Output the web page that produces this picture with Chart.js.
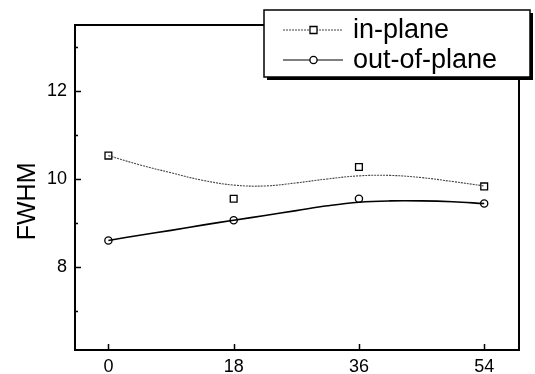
<!DOCTYPE html>
<html>
<head>
<meta charset="utf-8">
<script src="https://cdn.jsdelivr.net/npm/chart.js@4.4.1/dist/chart.umd.min.js"></script>
<style>
  html, body { margin: 0; padding: 0; background: #fff; }
  canvas { display: block; }
</style>
</head>
<body>
<canvas id="chart" width="535" height="374"></canvas>
<script>
// measured points
const xCats = [0, 18, 36, 54]
const inPlane = [10.53, 9.55, 10.27, 9.83]
const outOfPlane = [8.6, 9.06, 9.55, 9.44]

// fitted curves
const fitX = [0, 4.5, 9, 13.5, 18, 22.5, 27, 31.5, 36, 40.5, 45, 49.5, 54]
const inPlaneFit = [10.53, 10.32, 10.14, 9.97, 9.86, 9.84, 9.91, 10.0, 10.07, 10.08, 10.03, 9.94, 9.84]
const outOfPlaneFit = [8.6, 8.72, 8.83, 8.95, 9.06, 9.17, 9.28, 9.39, 9.47, 9.5, 9.5, 9.48, 9.44]

const xTicks = [0, 18, 36, 54]
const yTicks = [8, 10, 12]
const yMinorTicks = [7, 9, 11, 13]
const seriesLabels = ['in-plane', 'out-of-plane']

const toXY = (xs, ys) => xs.map((x, i) => ({x: x, y: ys[i]}))

const FONT = '"Liberation Sans", Arial, sans-serif'

// frame, inward tick marks and the boxed legend
const framePlugin = {
  id: 'frame',
  afterDraw(chart) {
    const {ctx, chartArea: a, scales: {x, y}} = chart
    ctx.save()
    ctx.strokeStyle = '#000'
    ctx.lineWidth = 2
    ctx.strokeRect(a.left, a.top, a.right - a.left, a.bottom - a.top)

    ctx.lineWidth = 1.5
    ctx.beginPath()
    xTicks.forEach(v => {
      const px = Math.round(x.getPixelForValue(v)) + 0.5
      ctx.moveTo(px, a.bottom)
      ctx.lineTo(px, a.bottom - 6)
    })
    yTicks.forEach(v => {
      const py = Math.round(y.getPixelForValue(v)) + 0.5
      ctx.moveTo(a.left, py)
      ctx.lineTo(a.left + 6, py)
    })
    yMinorTicks.forEach(v => {
      const py = Math.round(y.getPixelForValue(v)) + 0.5
      ctx.moveTo(a.left, py)
      ctx.lineTo(a.left + 3, py)
    })
    ctx.stroke()

    // legend box with drop shadow
    const bx = 264, by = 10, bw = 266, bh = 67
    ctx.fillStyle = '#000'
    ctx.fillRect(bx + 3, by + 3, bw, bh)
    ctx.fillStyle = '#fff'
    ctx.fillRect(bx, by, bw, bh)
    ctx.lineWidth = 1.5
    ctx.strokeRect(bx, by, bw, bh)

    const rows = [by + 20, by + 50]
    ctx.font = '27px ' + FONT
    ctx.textBaseline = 'middle'
    rows.forEach((ry, i) => {
      ctx.strokeStyle = i === 0 ? '#444' : '#000'
      ctx.lineWidth = 1.2
      ctx.setLineDash(i === 0 ? [2, 1] : [])
      ctx.beginPath()
      ctx.moveTo(283, ry)
      ctx.lineTo(343, ry)
      ctx.stroke()
      ctx.setLineDash([])
      ctx.fillStyle = '#fff'
      ctx.strokeStyle = '#000'
      ctx.lineWidth = 1.3
      ctx.beginPath()
      if (i === 0) ctx.rect(310, ry - 3.5, 7, 7)
      else ctx.arc(313.5, ry, 3.6, 0, Math.PI * 2)
      ctx.fill()
      ctx.stroke()
      ctx.fillStyle = '#000'
      ctx.fillText(seriesLabels[i], 353, ry + 1)
    })
    ctx.restore()
  }
}

const ctx = document.getElementById('chart')

new Chart(ctx, {
  type: 'scatter',
  data: {
    datasets: [
      {
        label: seriesLabels[0] + ' fit',
        data: toXY(fitX, inPlaneFit),
        showLine: true,
        pointRadius: 0,
        borderColor: '#444',
        borderWidth: 1.1,
        borderDash: [2, 1],
        tension: 0.4
      },
      {
        label: seriesLabels[1] + ' fit',
        data: toXY(fitX, outOfPlaneFit),
        showLine: true,
        pointRadius: 0,
        borderColor: '#000',
        borderWidth: 1.6,
        tension: 0.4
      },
      {
        label: seriesLabels[0],
        data: toXY(xCats, inPlane),
        pointStyle: 'rect',
        pointRadius: 4.8,
        borderColor: '#000',
        borderWidth: 1.3,
        backgroundColor: '#fff'
      },
      {
        label: seriesLabels[1],
        data: toXY(xCats, outOfPlane),
        pointStyle: 'circle',
        pointRadius: 3.6,
        borderColor: '#000',
        borderWidth: 1.3,
        backgroundColor: '#fff'
      }
    ]
  },
  options: {
    responsive: false,
    animation: false,
    layout: {padding: {left: 0, top: 25, right: 16, bottom: 0}},
    plugins: {
      legend: {display: false},
      tooltip: {enabled: false}
    },
    scales: {
      x: {
        type: 'linear',
        min: -4.8,
        max: 59,
        afterBuildTicks: scale => { scale.ticks = xTicks.map(v => ({value: v})) },
        afterFit: scale => { scale.height = 24 },
        grid: {display: false, drawTicks: false},
        border: {display: false},
        ticks: {color: '#000', padding: 6, font: {family: FONT, size: 18}}
      },
      y: {
        min: 6.11,
        max: 13.5,
        afterBuildTicks: scale => { scale.ticks = yTicks.map(v => ({value: v})) },
        afterFit: scale => { scale.width = 75 },
        grid: {display: false, drawTicks: false},
        border: {display: false},
        ticks: {color: '#000', padding: 8, font: {family: FONT, size: 18}},
        title: {
          display: true,
          text: 'FWHM    ',
          color: '#000',
          padding: {top: 13},
          font: {family: FONT, size: 25}
        }
      }
    }
  },
  plugins: [framePlugin]
})
</script>
</body>
</html>
